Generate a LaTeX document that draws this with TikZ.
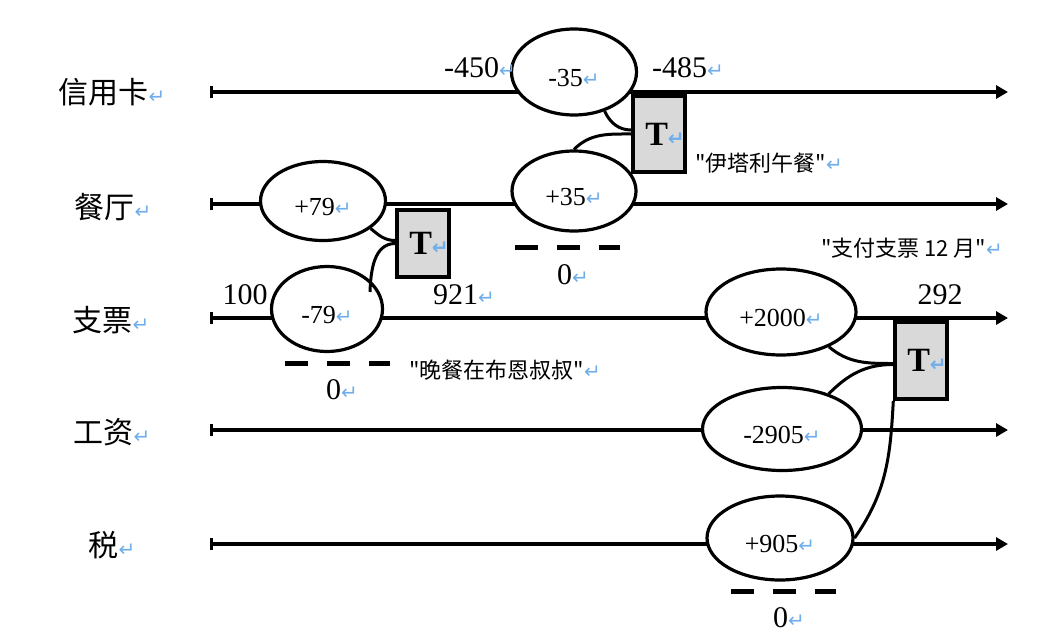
\documentclass[tikz,border=0pt]{standalone}
\usepackage{fontspec}
\setmainfont{Liberation Serif}
\newfontfamily\cjk{Noto Sans CJK SC}
\newfontfamily\retfont{DejaVu Sans}
\usetikzlibrary{shapes.geometric, arrows.meta, calc}
\definecolor{retblue}{HTML}{6FAEEA}
\definecolor{tgray}{HTML}{D9D9D9}
\newcommand{\ret}{{\retfont\fontsize{10}{10}\selectfont\color{retblue}↵}}

\begin{document}
\begin{tikzpicture}[x=0.5pt, y=0.5pt]

% Styles
\tikzset{
    lane/.style={line width=2pt, {Bar[width=6pt, line width=1.5pt]}-{Triangle[length=6pt, width=6.5pt]}},
    lanename/.style={font=\cjk\fontsize{15}{15}\selectfont, inner sep=0pt},
    entry/.style={ellipse, draw, line width=1.6pt, fill=white, inner sep=0pt, text height=14pt, text depth=0pt, font=\fontsize{13}{13}\selectfont},
    tbox/.style={rectangle, draw, line width=2pt, fill=tgray, minimum width=25pt, inner sep=0pt, font=\bfseries\fontsize{17}{17}\selectfont},
    balance/.style={font=\fontsize{15}{15}\selectfont, inner sep=0pt},
    memo/.style={font=\cjk\fontsize{11}{11}\selectfont, inner sep=0pt},
    link/.style={line width=1.5pt},
    zero/.style={line width=2.5pt, dash pattern=on 11.5pt off 9.5pt}
}

\useasboundingbox (0,0) rectangle (1052,-642);

% Accounts
\node (card) [lanename] at (112,-92) {信用卡\ret};
\node (restaurant) [lanename] at (113,-207) {餐厅\ret};
\node (cheque) [lanename] at (111,-320) {支票\ret};
\node (salary) [lanename] at (112,-432) {工资\ret};
\node (tax) [lanename] at (112,-545) {税\ret};

\coordinate (cardStart) at (210,-92);
\coordinate (cardEnd) at (1008,-92);
\coordinate (restStart) at (210,-204);
\coordinate (restEnd) at (1008,-204);
\coordinate (chequeStart) at (210,-318);
\coordinate (chequeEnd) at (1008,-318);
\coordinate (salaryStart) at (210,-430);
\coordinate (salaryEnd) at (1008,-430);
\coordinate (taxStart) at (210,-544);
\coordinate (taxEnd) at (1008,-544);

\draw [lane] (cardStart) -- (cardEnd);
\draw [lane] (restStart) -- (restEnd);
\draw [lane] (chequeStart) -- (chequeEnd);
\draw [lane] (salaryStart) -- (salaryEnd);
\draw [lane] (taxStart) -- (taxEnd);

% Entries
\node (cardOut) [entry, minimum width=62.5pt, minimum height=43pt] at (574,-72) {-35\ret};
\node (lunchIn) [entry, minimum width=62pt, minimum height=40pt] at (574,-191) {+35\ret};
\node (dinnerIn) [entry, minimum width=62.5pt, minimum height=39.5pt] at (323,-201) {+79\ret};
\node (dinnerOut) [entry, minimum width=55.5pt, minimum height=42.5pt] at (327,-309) {-79\ret};
\node (chequeIn) [entry, minimum width=75pt, minimum height=43pt] at (781,-312) {+2000\ret};
\node (salaryOut) [entry, minimum width=79.5pt, minimum height=41.5pt] at (782,-429) {-2905\ret};
\node (taxIn) [entry, minimum width=73pt, minimum height=42pt] at (780,-538) {+905\ret};

% Transactions
\node (tLunch) [tbox, minimum height=38pt] at (659,-134) {\hspace*{6pt}T\ret};
\node (tDinner) [tbox, minimum height=33.5pt] at (423,-243.5) {\hspace*{6pt}T\ret};
\node (tCheque) [tbox, minimum height=38.5pt] at (921,-360.5) {\hspace*{6pt}T\ret};

\draw [link] (cardOut.-52) to[out=-65, in=180] ([yshift=2pt]tLunch.west);
\draw [link] (lunchIn.north) to[out=45, in=180] (tLunch.west);
\draw [link] (dinnerIn.-30) to[out=-40, in=180] ([yshift=1.5pt]tDinner.west);
\draw [link] ($(dinnerOut.center)+(43,17)$) to[out=88, in=180] (tDinner.west);
\draw [link] (chequeIn.-36) to[out=-40, in=180] ([yshift=-1.5pt]tCheque.west);
\draw [link] (salaryOut.37) to[out=45, in=180] ([yshift=-2pt]tCheque.west);
\draw [link] (taxIn.east) to[out=55, in=-93] (tCheque.south west);

% Balances
\node (cardBefore) [balance] at (480,-68) {-450\ret};
\node (cardAfter) [balance] at (688,-68) {-485\ret};
\node (chequeBefore) [balance] at (245,-295) {100};
\node (chequeMid) [balance] at (464,-295) {921\ret};
\node (chequeAfter) [balance] at (940,-295) {292};

\draw [zero] (515,-247) -- (620,-247);
\draw [zero] (285,-363) -- (390,-363);
\draw [zero] (731,-591) -- (836,-591);
\node (restZero) [balance] at (573,-275) {0\ret};
\node (chequeZero) [balance] at (342,-390) {0\ret};
\node (taxZero) [balance] at (789,-618) {0\ret};

% Memos
\node (lunchMemo) [memo] at (769,-163) {"伊塔利午餐"\ret};
\node (chequeMemo) [memo] at (912,-248) {"支付支票 12 月"\ret};
\node (dinnerMemo) [memo] at (505,-370) {"晚餐在布恩叔叔"\ret};

\end{tikzpicture}
\end{document}
